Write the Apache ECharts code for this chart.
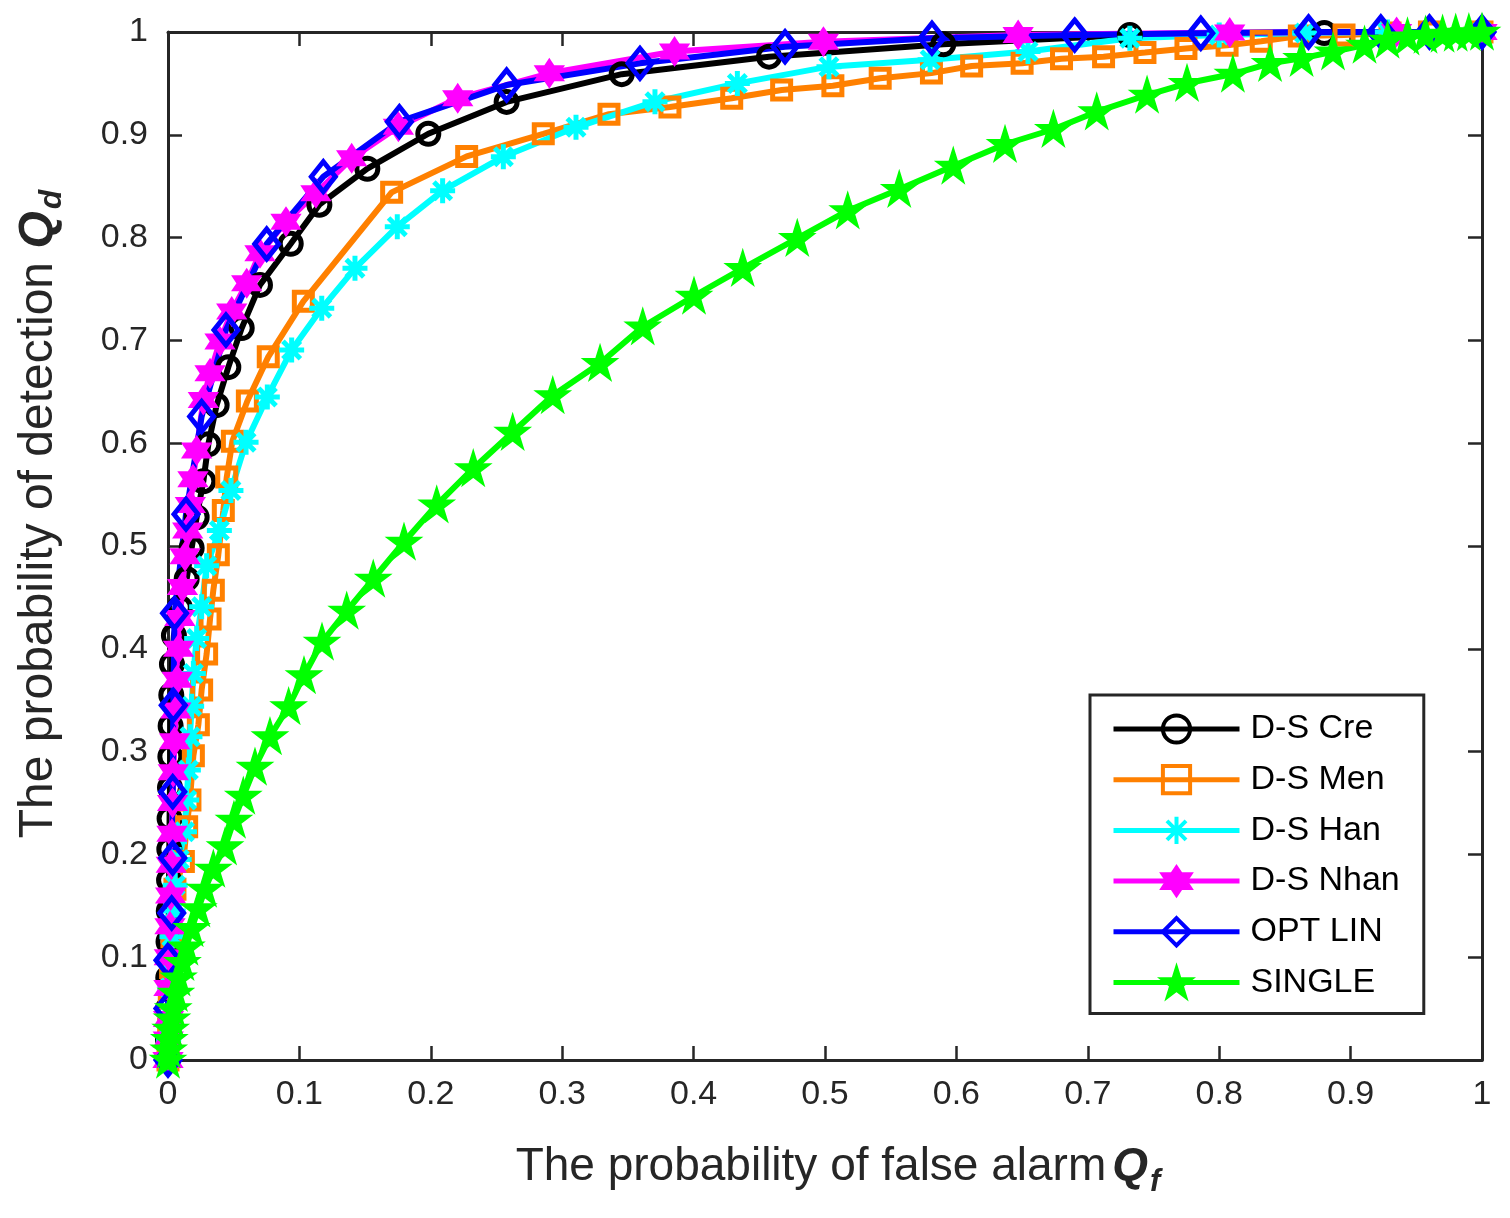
<!DOCTYPE html>
<html>
<head>
<meta charset="utf-8">
<script src="https://cdn.jsdelivr.net/npm/echarts@6/dist/echarts.min.js"></script>
<style>
  html, body { margin: 0; padding: 0; background: #fff; }
  #main { width: 1510px; height: 1218px; }
</style>
</head>
<body>
<div id="main"></div>
<script>
// tick labels shared by both axes
const tickLabels = ['0', '0.1', '0.2', '0.3', '0.4', '0.5', '0.6', '0.7', '0.8', '0.9', '1'];

// D-S Cre
const creX = [0, 0, 0.0001, 0.0002, 0.0004, 0.0006, 0.0008, 0.001, 0.0012, 0.0015, 0.0018, 0.002, 0.0025, 0.003, 0.0045, 0.009, 0.0142, 0.018, 0.0218, 0.0269, 0.0307, 0.037, 0.0459, 0.0561, 0.070, 0.0934, 0.1152, 0.1517, 0.1981, 0.2577, 0.3453, 0.4574, 0.59, 0.732, 0.880, 1.0];
const creY = [0, 0.02, 0.05, 0.08, 0.115, 0.145, 0.175, 0.205, 0.235, 0.265, 0.295, 0.325, 0.355, 0.385, 0.413, 0.44, 0.468, 0.498, 0.528, 0.563, 0.599, 0.637, 0.674, 0.712, 0.754, 0.794, 0.832, 0.867, 0.901, 0.932, 0.959, 0.976, 0.988, 0.997, 0.999, 1.0];

// D-S Men
const menX = [0, 0.0005, 0.001, 0.002, 0.003, 0.0053, 0.0117, 0.0142, 0.0167, 0.0193, 0.0231, 0.0256, 0.0294, 0.032, 0.0345, 0.0383, 0.0421, 0.0447, 0.049, 0.0604, 0.0763, 0.103, 0.1702, 0.2273, 0.2856, 0.3356, 0.382, 0.429, 0.467, 0.506, 0.542, 0.581, 0.6116, 0.650, 0.680, 0.712, 0.7435, 0.7747, 0.806, 0.832, 0.861, 0.895, 0.93, 0.96, 1.0];
const menY = [0, 0.03, 0.06, 0.09, 0.12, 0.166, 0.193, 0.227, 0.253, 0.296, 0.326, 0.360, 0.395, 0.429, 0.457, 0.4915, 0.5345, 0.567, 0.602, 0.641, 0.684, 0.738, 0.844, 0.879, 0.901, 0.920, 0.927, 0.9355, 0.9436, 0.9478, 0.955, 0.960, 0.967, 0.9695, 0.974, 0.976, 0.980, 0.984, 0.987, 0.991, 0.996, 0.997, 0.999, 1.0, 1.0];

// D-S Han
const hanX = [0, 0.0005, 0.001, 0.0015, 0.002, 0.003, 0.004, 0.0055, 0.0085, 0.0125, 0.0142, 0.0155, 0.0167, 0.018, 0.0193, 0.0218, 0.0256, 0.0294, 0.0391, 0.0479, 0.0594, 0.0756, 0.0941, 0.117, 0.1423, 0.1745, 0.209, 0.2552, 0.3105, 0.3706, 0.4333, 0.503, 0.580, 0.6545, 0.732, 0.80, 0.865, 0.928, 1.0];
const hanY = [0, 0.02, 0.045, 0.07, 0.095, 0.12, 0.145, 0.17, 0.195, 0.222, 0.253, 0.282, 0.3145, 0.344, 0.376, 0.410, 0.441, 0.4807, 0.515, 0.554, 0.601, 0.645, 0.6907, 0.7312, 0.7701, 0.8106, 0.8456, 0.8787, 0.9073, 0.9322, 0.950, 0.9663, 0.973, 0.981, 0.994, 0.997, 0.999, 1.0, 1.0];

// D-S Nhan
const nhanX = [0, 0.0002, 0.0004, 0.0007, 0.001, 0.0015, 0.002, 0.0025, 0.003, 0.0035, 0.004, 0.005, 0.006, 0.007, 0.008, 0.009, 0.011, 0.013, 0.015, 0.017, 0.019, 0.0218, 0.0269, 0.032, 0.0396, 0.0485, 0.0599, 0.070, 0.0898, 0.1126, 0.1398, 0.1753, 0.2205, 0.2902, 0.3855, 0.4988, 0.647, 0.808, 0.935, 1.0];
const nhanY = [0, 0.02, 0.04, 0.07, 0.10, 0.13, 0.16, 0.19, 0.22, 0.25, 0.28, 0.31, 0.34, 0.37, 0.40, 0.43, 0.46, 0.49, 0.515, 0.54, 0.565, 0.593, 0.642, 0.668, 0.699, 0.728, 0.7555, 0.7847, 0.8155, 0.8431, 0.8771, 0.9079, 0.9355, 0.9598, 0.981, 0.9906, 0.997, 0.9995, 1.0, 1.0];

// OPT LIN
const optX = [0, 0, 0, 0.0028, 0.0036, 0.0036, 0.004, 0.005, 0.0137, 0.0256, 0.0441, 0.0751, 0.1182, 0.1761, 0.2577, 0.3592, 0.4696, 0.5814, 0.690, 0.786, 0.868, 0.923, 0.96, 1.0];
const optY = [0, 0.05, 0.097, 0.143, 0.1965, 0.261, 0.345, 0.4345, 0.531, 0.626, 0.7101, 0.7938, 0.8593, 0.9128, 0.9484, 0.9695, 0.9857, 0.994, 0.997, 0.9988, 1.0, 1.0, 1.0, 1.0];

// SINGLE
const singleX = [0, 0.0005, 0.001, 0.002, 0.003, 0.004, 0.006, 0.008, 0.011, 0.014, 0.018, 0.0231, 0.0282, 0.0345, 0.0434, 0.0502, 0.0573, 0.0662, 0.0776, 0.0918, 0.1035, 0.1172, 0.136, 0.1562, 0.1796, 0.2045, 0.2323, 0.2623, 0.2928, 0.3288, 0.3613, 0.4003, 0.4374, 0.4789, 0.5173, 0.5565, 0.5976, 0.637, 0.6738, 0.7068, 0.7451, 0.7755, 0.8104, 0.8387, 0.8627, 0.8866, 0.9106, 0.9281, 0.9433, 0.957, 0.97, 0.98, 0.99, 1.0];
const singleY = [0, 0.01, 0.02, 0.03, 0.04, 0.05, 0.065, 0.08, 0.095, 0.11, 0.128, 0.1472, 0.1663, 0.1858, 0.2075, 0.2335, 0.2568, 0.285, 0.3146, 0.3439, 0.374, 0.4066, 0.4368, 0.4679, 0.5039, 0.5401, 0.5754, 0.6107, 0.6464, 0.6777, 0.7133, 0.7432, 0.7701, 0.7993, 0.8262, 0.847, 0.8696, 0.8908, 0.9054, 0.9225, 0.9387, 0.9501, 0.9591, 0.9695, 0.9744, 0.9808, 0.9873, 0.9922, 0.9954, 0.997, 0.998, 0.999, 0.9995, 1.0];

const zip = (xs, ys) => xs.map((x, i) => [x, ys[i]]);

// MATLAB-like marker shapes
const ASTERISK = 'path://M0,-100L0,100M-100,0L100,0M-70,-70L70,70M-70,70L70,-70';
const HEXAGRAM = 'path://M0,-100L28.87,-50L86.6,-50L57.7,0L86.6,50L28.87,50L0,100L-28.87,50L-86.6,50L-57.7,0L-86.6,-50L-28.87,-50Z';
const PENTAGRAM = 'path://M0,-100L22.45,-30.9L95.1,-30.9L36.3,11.8L58.8,80.9L0,38.2L-58.8,80.9L-36.3,11.8L-95.1,-30.9L-22.45,-30.9Z';

const axisColor = '#262626';
const fontFamily = '"Liberation Sans", Arial, Helvetica, sans-serif';

function makeSeries(name, data, color, symbol, size, fill) {
  return {
    name: name,
    type: 'line',
    data: data,
    color: color,
    symbol: symbol,
    symbolSize: size,
    showAllSymbol: true,
    clip: false,
    lineStyle: { color: color, width: 6 },
    itemStyle: { color: fill || 'rgba(0,0,0,0)', borderColor: color, borderWidth: 5 },
    emphasis: { disabled: true },
    animation: false
  };
}

const chart = echarts.init(document.getElementById('main'));

const valueAxis = {
  type: 'value', min: 0, max: 1, interval: 0.1,
  axisLine: { show: true, onZero: false, lineStyle: { color: axisColor, width: 3 } },
  axisTick: { show: true, inside: true, length: 14, lineStyle: { color: axisColor, width: 2.5 } },
  splitLine: { show: false }
};

chart.setOption({
  backgroundColor: '#fff',
  animation: false,
  grid: { left: 168, top: 32, right: 28, bottom: 158, containLabel: false },
  xAxis: [
    Object.assign({}, valueAxis, {
      position: 'bottom',
      name: '{a|The probability of false alarm}{q|Q}{s|f}',
      nameLocation: 'middle',
      nameGap: 77,
      nameTextStyle: {
        padding: [0, 0, 0, 26],
        rich: {
          a: { fontSize: 46, color: axisColor, fontFamily: fontFamily },
          q: { fontSize: 46, color: axisColor, fontFamily: fontFamily, fontWeight: 'bold', fontStyle: 'italic', padding: [0, 0, 0, 6] },
          s: { fontSize: 31, color: axisColor, fontFamily: fontFamily, fontWeight: 'bold', fontStyle: 'italic', padding: [30, 0, 0, 2] }
        }
      },
      axisLabel: {
        margin: 18, fontSize: 34, color: axisColor, fontFamily: fontFamily,
        formatter: v => tickLabels[Math.round(v * 10)]
      }
    }),
    Object.assign({}, valueAxis, { position: 'top', axisLabel: { show: false } })
  ],
  yAxis: [
    Object.assign({}, valueAxis, {
      position: 'left',
      name: '{a|The probability of detection }{q|Q}{s|d}',
      nameLocation: 'middle',
      nameGap: 100,
      nameRotate: 90,
      nameTextStyle: {
        padding: [0, 0, 0, 64],
        rich: {
          a: { fontSize: 48, color: axisColor, fontFamily: fontFamily },
          q: { fontSize: 48, color: axisColor, fontFamily: fontFamily, fontWeight: 'bold', fontStyle: 'italic' },
          s: { fontSize: 32, color: axisColor, fontFamily: fontFamily, fontWeight: 'bold', fontStyle: 'italic', padding: [26, 0, 0, 2] }
        }
      },
      axisLabel: {
        margin: 20, fontSize: 34, color: axisColor, fontFamily: fontFamily,
        formatter: v => tickLabels[Math.round(v * 10)]
      }
    }),
    Object.assign({}, valueAxis, { position: 'right', axisLabel: { show: false } })
  ],
  legend: {
    orient: 'vertical',
    left: 1090,
    top: 695,
    padding: [17, 24, 14, 21],
    itemWidth: 126,
    itemHeight: 34,
    itemGap: 16.7,
    borderColor: axisColor,
    borderWidth: 3,
    backgroundColor: '#fff',
    selectedMode: false,
    lineStyle: { width: 5 },
    itemStyle: { borderWidth: 4 },
    textStyle: { fontSize: 34, color: '#000', fontFamily: fontFamily, padding: [0, 0, 0, 6] },
    data: ['D-S Cre', 'D-S Men', 'D-S Han', 'D-S Nhan', 'OPT LIN', 'SINGLE']
  },
  series: [
    makeSeries('D-S Cre', zip(creX, creY), '#000000', 'circle', 21),
    makeSeries('D-S Men', zip(menX, menY), '#FF8000', 'rect', 18),
    makeSeries('D-S Han', zip(hanX, hanY), '#00FFFF', ASTERISK, 25, 'none'),
    makeSeries('D-S Nhan', zip(nhanX, nhanY), '#FF00FF', HEXAGRAM, 22, '#FF00FF'),
    makeSeries('OPT LIN', zip(optX, optY), '#0000FF', 'diamond', [24, 30]),
    makeSeries('SINGLE', zip(singleX, singleY), '#00FF00', PENTAGRAM, 24, '#00FF00')
  ]
});
</script>
</body>
</html>
